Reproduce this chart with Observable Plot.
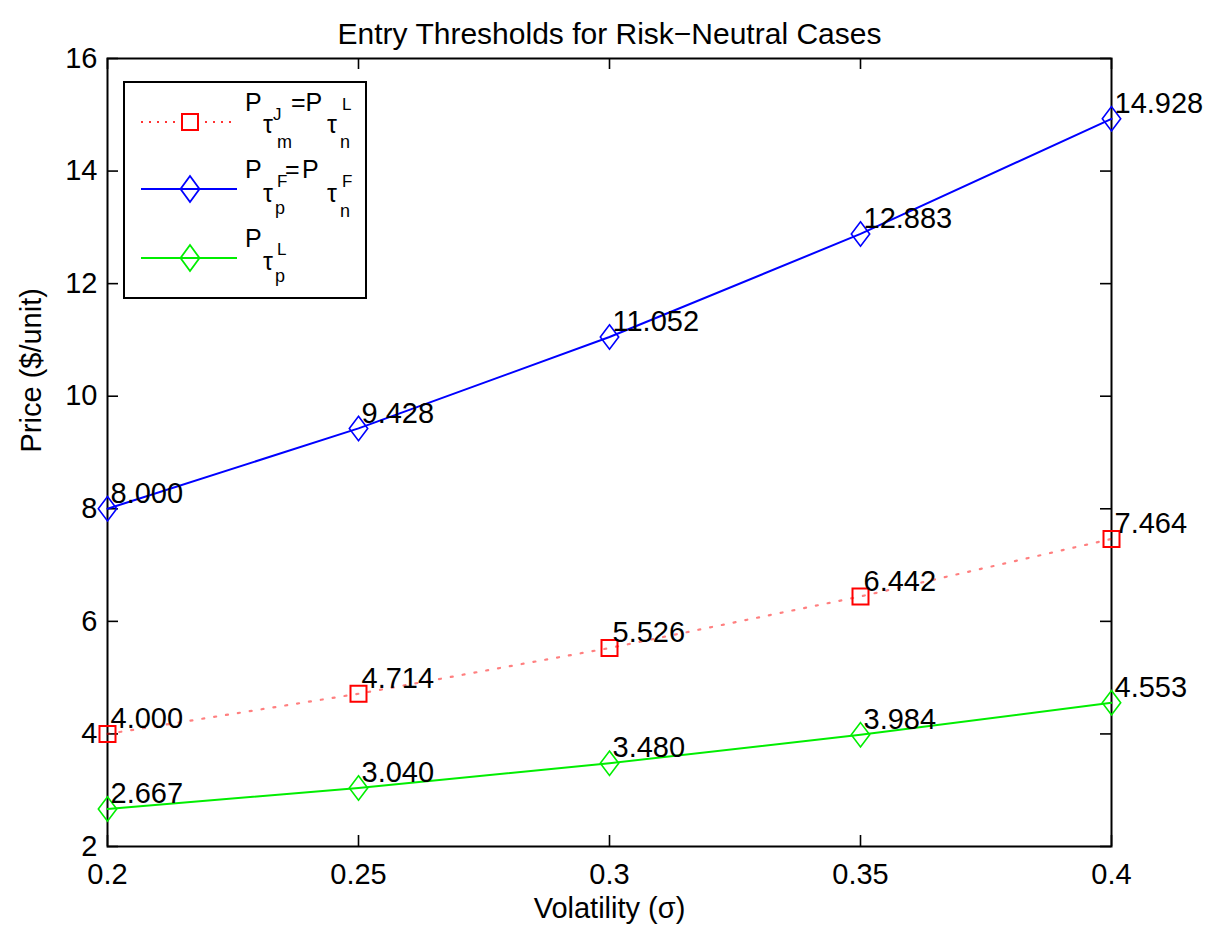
<!DOCTYPE html>
<html><head><meta charset="utf-8">
<script src="https://cdn.jsdelivr.net/npm/d3@7"></script>
<script src="https://cdn.jsdelivr.net/npm/@observablehq/plot@0.6"></script>
<style>body{margin:0;background:#fff}</style>
</head><body><div id="chart"></div>
<script>
const volatility = [0.2, 0.25, 0.3, 0.35, 0.4];
const redValues = [4.000, 4.714, 5.526, 6.442, 7.464];
const blueValues = [8.000, 9.428, 11.052, 12.883, 14.928];
const greenValues = [2.667, 3.040, 3.480, 3.984, 4.553];
const xTicks = [0.2, 0.25, 0.3, 0.35, 0.4];
const xTickLabels = ["0.2", "0.25", "0.3", "0.35", "0.4"];
const yTicks = [2, 4, 6, 8, 10, 12, 14, 16];
const titleText = "Entry Thresholds for Risk\u2212Neutral Cases";
const xLabel = "Volatility (\u03c3)";
const yLabel = "Price ($/unit)";

const rows = (vals) => vals.map((v, i) => ({x: volatility[i], y: v, label: v.toFixed(3)}));
const red = rows(redValues), blue = rows(blueValues), green = rows(greenValues);

const diamond = {draw(ctx, size) {
  const r = Math.sqrt(size / Math.PI); const w = r * 0.92, h = r * 1.22;
  ctx.moveTo(0, -h); ctx.lineTo(w, 0); ctx.lineTo(0, h); ctx.lineTo(-w, 0); ctx.closePath();
}};
const square = {draw(ctx, size) {
  const r = Math.sqrt(size / Math.PI) * 0.8; ctx.rect(-r, -r, 2 * r, 2 * r);
}};

const W = 1211, H = 927, mL = 107, mR = 100, mT = 58, mB = 81;
const plotH = H - mT - mB, plotW = W - mL - mR, tl = 11;
const FONT = "'Liberation Sans', Arial, Helvetica, sans-serif";
const fs = 29;

const svg = Plot.plot({
  width: W, height: H, marginLeft: mL, marginRight: mR, marginTop: mT, marginBottom: mB,
  x: {domain: [0.2, 0.4], label: null},
  y: {domain: [2, 16], label: null},
  style: {fontFamily: FONT, fontSize: fs + "px", color: "#000", background: "#fff"},
  marks: [
    Plot.axisX(xTicks, {tickSize: 0, tickPadding: 17, fontSize: fs, label: null,
      tickFormat: d => xTickLabels[xTicks.indexOf(d)]}),
    Plot.axisY(yTicks, {tickSize: 0, tickPadding: 10, fontSize: fs, label: null,
      tickFormat: d => String(d)}),
    Plot.tickX(xTicks, {x: d => d, insetTop: plotH - tl, stroke: "#000", strokeWidth: 1.6}),
    Plot.tickX(xTicks, {x: d => d, insetBottom: plotH - tl, stroke: "#000", strokeWidth: 1.6}),
    Plot.tickY(yTicks, {y: d => d, insetRight: plotW - tl, stroke: "#000", strokeWidth: 1.6}),
    Plot.tickY(yTicks, {y: d => d, insetLeft: plotW - tl, stroke: "#000", strokeWidth: 1.6}),
    Plot.frame({stroke: "#000", strokeWidth: 2}),
    Plot.line(red, {x: "x", y: "y", stroke: "#ff0000", strokeWidth: 2.2, strokeDasharray: "2,10", strokeOpacity: 0.5}),
    Plot.line(blue, {x: "x", y: "y", stroke: "#0000ff", strokeWidth: 2}),
    Plot.line(green, {x: "x", y: "y", stroke: "#00ee00", strokeWidth: 2}),
    Plot.dot(red, {x: "x", y: "y", symbol: square, r: 10, stroke: "#ff0000", strokeWidth: 2, fill: "none"}),
    Plot.dot(blue, {x: "x", y: "y", symbol: diamond, r: 10, stroke: "#0000ff", strokeWidth: 1.6, fill: "none"}),
    Plot.dot(green, {x: "x", y: "y", symbol: diamond, r: 10, stroke: "#00ee00", strokeWidth: 1.6, fill: "none"}),
    Plot.text(red, {x: "x", y: "y", text: "label", textAnchor: "start", dx: 3, dy: -15, fill: "#000", fontSize: fs}),
    Plot.text(blue, {x: "x", y: "y", text: "label", textAnchor: "start", dx: 3, dy: -15, fill: "#000", fontSize: fs}),
    Plot.text(green, {x: "x", y: "y", text: "label", textAnchor: "start", dx: 3, dy: -15, fill: "#000", fontSize: fs}),
    Plot.text([titleText], {frameAnchor: "top", dy: -36, fontSize: 30, fill: "#000"}),
    Plot.text([xLabel], {frameAnchor: "bottom", dy: 71, fontSize: fs, fill: "#000"}),
    Plot.text([yLabel], {frameAnchor: "left", dx: -76, rotate: -90, fontSize: fs, fill: "#000"})
  ]
});

// Legend (box, swatches, TeX-like labels)
const g = d3.select(svg).append("g").attr("class", "legend").attr("text-anchor", "start");
g.append("rect").attr("x", 124).attr("y", 82).attr("width", 242).attr("height", 216)
  .attr("fill", "#fff").attr("stroke", "#000").attr("stroke-width", 2);
const legendItems = [
  {color: "#ff0000", y: 122, dash: "2,6", x2: 231, sym: "square", opacity: 0.8},
  {color: "#0000ff", y: 189, dash: null, x2: 237, sym: "diamond", opacity: 1},
  {color: "#00ee00", y: 258, dash: null, x2: 237, sym: "diamond", opacity: 1}
];
legendItems.forEach(it => {
  g.append("line").attr("x1", 141).attr("x2", it.x2).attr("y1", it.y).attr("y2", it.y)
    .attr("stroke", it.color).attr("stroke-width", 2).attr("stroke-dasharray", it.dash)
    .attr("stroke-opacity", it.opacity);
  if (it.sym === "square") {
    g.append("rect").attr("x", 182).attr("y", it.y - 8).attr("width", 16).attr("height", 16)
      .attr("fill", "#fff").attr("stroke", it.color).attr("stroke-width", 2);
  } else {
    const w = 9.5, h = 13, cx = 190, cy = it.y;
    g.append("path").attr("d", `M${cx},${cy - h}L${cx + w},${cy}L${cx},${cy + h}L${cx - w},${cy}Z`)
      .attr("fill", "none").attr("stroke", it.color).attr("stroke-width", 1.8);
  }
});
const spans = [
  ["P", 245, 111, 25], ["\u03c4", 263, 133, 25], ["J", 273, 120, 17], ["m", 277, 148, 18],
  ["=P", 291, 111, 25], ["\u03c4", 327, 133, 25], ["L", 342, 110, 17], ["n", 340, 148, 18],
  ["P", 245, 178, 25], ["\u03c4", 263, 202, 25], ["F", 277, 187, 17], ["p", 275, 214, 18],
  ["=", 285, 178, 25], ["P", 302, 178, 25], ["\u03c4", 327, 202, 25], ["F", 342, 187, 17], ["n", 340, 217, 18],
  ["P", 245, 247, 25], ["\u03c4", 263, 270, 25], ["L", 277, 255, 17], ["p", 275, 282, 18]
];
spans.forEach(([t, x, y, s]) => {
  g.append("text").attr("x", x).attr("y", y).attr("font-size", s).attr("font-family", FONT)
    .attr("text-anchor", "start").attr("fill", "#000").text(t);
});

document.getElementById("chart").appendChild(svg);
</script>
</body></html>
